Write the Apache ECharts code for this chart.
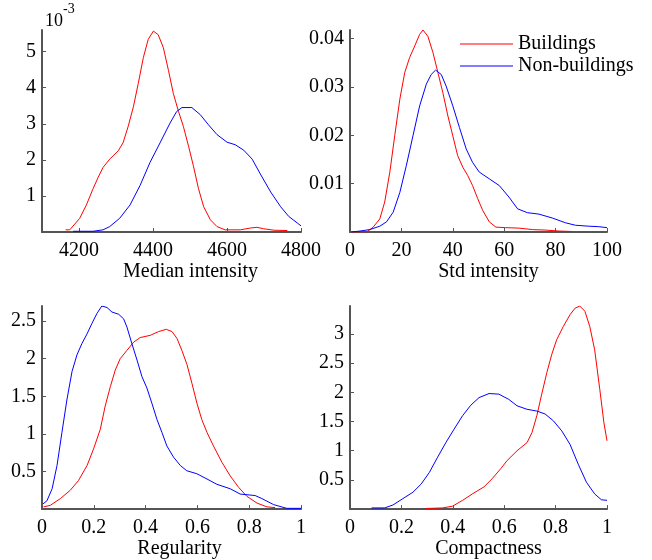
<!DOCTYPE html>
<html>
<head>
<meta charset="utf-8">
<script src="https://cdn.jsdelivr.net/npm/echarts@6/dist/echarts.min.js"></script>
<style>
html,body{margin:0;padding:0;background:#fff;}
#chart{width:652px;height:560px;}
</style>
</head>
<body>
<div id="chart"></div>
<script>
// ---- Data ----
const seriesNames = ['Buildings', 'Non-buildings'];
const axisNames = ['Median intensity', 'Std intensity', 'Regularity', 'Compactness'];

// Median intensity (density in units of 10^-3)
const medianBuildings = [[4164,0.06],[4175,0.06],[4202,0.38],[4220,0.75],[4238,1.2],[4252,1.52],[4265,1.79],[4283,2.02],[4306,2.25],[4319,2.47],[4333,2.93],[4347,3.47],[4360,4.11],[4374,4.84],[4387,5.34],[4401,5.57],[4414,5.47],[4428,5.11],[4442,4.47],[4455,3.84],[4469,3.34],[4482,2.93],[4496,2.38],[4509,1.84],[4523,1.2],[4537,0.7],[4555,0.34],[4573,0.15],[4595,0.06],[4636,0.06],[4663,0.11],[4681,0.13],[4699,0.09],[4727,0.05],[4763,0.04]];
const medianNonBuildings = [[4184,0.02],[4238,0.02],[4265,0.06],[4283,0.15],[4310,0.38],[4338,0.75],[4365,1.29],[4392,1.93],[4419,2.47],[4446,3.02],[4464,3.34],[4478,3.45],[4505,3.45],[4528,3.25],[4550,2.97],[4573,2.7],[4600,2.49],[4622,2.42],[4645,2.27],[4668,2.02],[4690,1.61],[4718,1.11],[4745,0.7],[4767,0.43],[4790,0.25],[4800,0.17]];

// Std intensity
const stdBuildings = [[0.6,0],[6.5,0],[9,0.001],[11.6,0.0027],[13.5,0.0062],[15.5,0.0124],[17.4,0.0199],[19.4,0.0275],[21.3,0.033],[23.2,0.0361],[25.2,0.0385],[27.1,0.0409],[28.4,0.0418],[30.3,0.0405],[32.3,0.0371],[34.2,0.033],[36.1,0.0289],[38.1,0.024],[40,0.0199],[41.9,0.0158],[43.9,0.0134],[45.8,0.0117],[47.7,0.0096],[49.7,0.0069],[51.6,0.0045],[54.2,0.0021],[56.8,0.001],[60.6,0.0009],[65.8,0.0008],[71,0.0005],[76,0.0004],[81.3,0.0002],[86.5,0.0001]];
const stdNonBuildings = [[0.6,0],[3.9,0.0002],[7.7,0.0005],[11.6,0.0012],[14.2,0.0021],[16.8,0.0041],[19.4,0.0082],[21.9,0.0137],[24.5,0.0199],[27.1,0.0261],[29.7,0.0306],[31.6,0.0326],[33.3,0.0335],[35.5,0.0326],[37.4,0.0302],[40,0.0261],[42.6,0.0216],[45.2,0.0172],[47.7,0.0144],[50.3,0.0124],[54.2,0.011],[58.1,0.0096],[61.9,0.0072],[65.2,0.0048],[69,0.004],[73.5,0.0037],[78.7,0.0029],[83.9,0.0019],[87.7,0.0014],[92.9,0.0012],[96.8,0.0011],[100,0.0009]];

// Regularity
const regBuildings = [[0.006,0.03],[0.032,0.05],[0.071,0.14],[0.109,0.25],[0.141,0.38],[0.174,0.58],[0.199,0.8],[0.225,1.06],[0.244,1.37],[0.264,1.63],[0.283,1.85],[0.302,2.0],[0.328,2.11],[0.354,2.22],[0.379,2.28],[0.418,2.31],[0.45,2.36],[0.48,2.39],[0.502,2.36],[0.521,2.27],[0.54,2.11],[0.56,1.92],[0.579,1.67],[0.598,1.41],[0.617,1.19],[0.637,1.02],[0.662,0.84],[0.695,0.62],[0.727,0.44],[0.759,0.29],[0.791,0.17],[0.83,0.08],[0.868,0.03],[0.9,0.02]];
const regNonBuildings = [[0.004,0.07],[0.019,0.11],[0.039,0.27],[0.058,0.58],[0.077,1.02],[0.096,1.45],[0.116,1.83],[0.135,2.05],[0.154,2.2],[0.174,2.33],[0.193,2.47],[0.212,2.6],[0.231,2.7],[0.251,2.68],[0.27,2.62],[0.296,2.59],[0.315,2.53],[0.328,2.42],[0.347,2.2],[0.367,1.98],[0.386,1.76],[0.405,1.61],[0.424,1.41],[0.444,1.19],[0.463,1.02],[0.482,0.84],[0.508,0.69],[0.534,0.58],[0.559,0.51],[0.598,0.47],[0.637,0.4],[0.675,0.33],[0.727,0.27],[0.765,0.2],[0.823,0.18],[0.849,0.14],[0.894,0.06],[0.945,0.01],[1.0,0.01]];

// Compactness
const compBuildings = [[0.292,0.01],[0.36,0.02],[0.399,0.05],[0.438,0.15],[0.476,0.26],[0.521,0.38],[0.553,0.52],[0.586,0.69],[0.611,0.83],[0.65,1.0],[0.689,1.14],[0.708,1.31],[0.727,1.6],[0.746,1.97],[0.766,2.34],[0.785,2.65],[0.804,2.9],[0.83,3.13],[0.856,3.33],[0.875,3.44],[0.894,3.48],[0.914,3.39],[0.933,3.13],[0.952,2.73],[0.972,2.05],[0.988,1.48],[1.0,1.17]];
const compNonBuildings = [[0.084,0.02],[0.135,0.02],[0.167,0.07],[0.206,0.18],[0.245,0.29],[0.277,0.43],[0.309,0.63],[0.341,0.89],[0.373,1.14],[0.405,1.37],[0.438,1.6],[0.47,1.78],[0.502,1.91],[0.541,1.98],[0.579,1.97],[0.618,1.88],[0.65,1.77],[0.689,1.71],[0.727,1.68],[0.759,1.63],[0.792,1.51],[0.824,1.34],[0.856,1.11],[0.888,0.77],[0.92,0.46],[0.952,0.26],[0.978,0.16],[1.0,0.15]];

// Tick values
const xTicks = [[4200,4400,4600,4800],[0,20,40,60,80,100],[0,0.2,0.4,0.6,0.8,1],[0,0.2,0.4,0.6,0.8,1]];
const yTicks = [[1,2,3,4,5],[0.01,0.02,0.03,0.04],[0.5,1,1.5,2,2.5],[0.5,1,1.5,2,2.5,3]];
const xRanges = [[4100,4800],[0,100],[0,1],[0,1]];
const yRanges = [[0,5.6],[0,0.0418],[0,2.7],[0,3.48]];
const yExponentBase = '10';
const yExponent = '-3';

// ---- Chart ----
const FONT = "'Liberation Serif', 'Times New Roman', serif";
const AXIS_COLOR = '#555555';
const grids = [
  {left:42, top:30, width:259, height:202},
  {left:350, top:30, width:257, height:202},
  {left:42, top:306, width:259, height:204},
  {left:350, top:306, width:257, height:204}
];
const nameShift = [19, 10, 8, 10]; // x-label offset to the right, px
const allData = [
  [medianBuildings, medianNonBuildings],
  [stdBuildings, stdNonBuildings],
  [regBuildings, regNonBuildings],
  [compBuildings, compNonBuildings]
];
const colors = ['#ff0000', '#0000ff'];
const plain = v => String(v);

const xAxes = [], yAxes = [], series = [];
for (let i = 0; i < 4; i++) {
  xAxes.push({
    type:'value', gridIndex:i, min:xRanges[i][0], max:xRanges[i][1],
    name:axisNames[i], nameLocation:'middle', nameGap:28,
    nameTextStyle:{fontFamily:FONT, fontSize:20, color:'#000', padding:[0,0,0,2*nameShift[i]]},
    splitLine:{show:false},
    axisLine:{show:true, onZero:false, lineStyle:{color:AXIS_COLOR, width:2}},
    axisTick:{show:true, inside:true, length:4, customValues:xTicks[i], lineStyle:{color:AXIS_COLOR, width:1}},
    axisLabel:{customValues:xTicks[i], formatter:plain, margin:9, fontFamily:FONT, fontSize:20, color:'#000'}
  });
  yAxes.push({
    type:'value', gridIndex:i, min:yRanges[i][0], max:yRanges[i][1],
    splitLine:{show:false},
    axisLine:{show:true, onZero:false, lineStyle:{color:AXIS_COLOR, width:2}},
    axisTick:{show:true, inside:true, length:4, customValues:yTicks[i], lineStyle:{color:AXIS_COLOR, width:1}},
    axisLabel:{customValues:yTicks[i], formatter:plain, margin:6, fontFamily:FONT, fontSize:20, color:'#000'}
  });
  for (let s = 0; s < 2; s++) {
    series.push({
      type:'line', name:seriesNames[s], xAxisIndex:i, yAxisIndex:i,
      data:allData[i][s], symbol:'none', smooth:false,
      lineStyle:{color:colors[s], width:1}, itemStyle:{color:colors[s]},
      animation:false
    });
  }
}

const chart = echarts.init(document.getElementById('chart'), null, {renderer:'canvas'});
chart.setOption({
  backgroundColor:'#fff',
  animation:false,
  grid:grids,
  xAxis:xAxes,
  yAxis:yAxes,
  series:series,
  legend:{
    data:seriesNames, orient:'vertical', left:460, top:34,
    icon:'rect', itemWidth:53, itemHeight:1.2, itemGap:2, padding:0,
    textStyle:{fontFamily:FONT, fontSize:20, color:'#000', lineHeight:20}
  },
  graphic:[
    {type:'text', left:45, top:12, style:{text:yExponentBase, font:"18px 'Liberation Serif'", fill:'#000'}},
    {type:'text', left:63, top:2, style:{text:yExponent, font:"14px 'Liberation Serif'", fill:'#000'}}
  ]
});
</script>
</body>
</html>
